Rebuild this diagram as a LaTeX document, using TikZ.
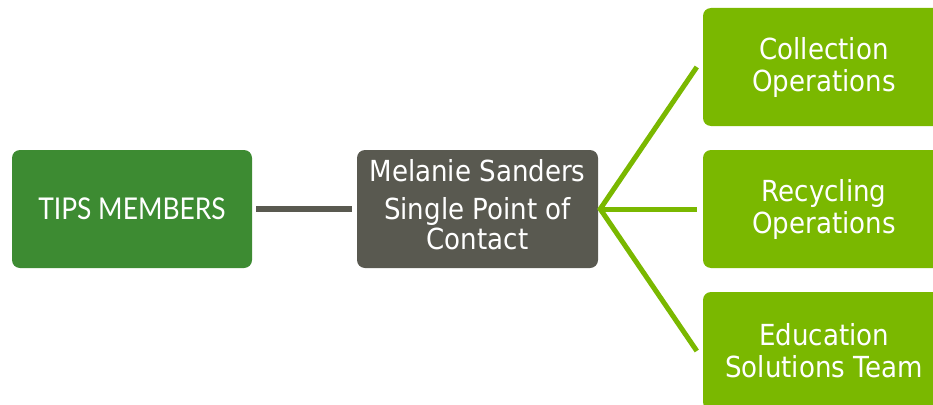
\documentclass[tikz,border=0pt]{standalone}
\usepackage{fontspec}
\setmainfont{DejaVu Sans}
\newfontfamily\tahfont[FakeStretch=0.9]{DejaVu Sans}
\newfontfamily\gillfont[FakeStretch=0.88]{Lato}
\definecolor{tipsgreen}{RGB}{61,139,50}
\definecolor{darkbox}{RGB}{89,89,80}
\definecolor{limebox}{RGB}{122,184,0}
\begin{document}
\begin{tikzpicture}[x=1pt,y=-1pt,
  box/.style={rounded corners=8pt, minimum width=240pt, minimum height=118pt, inner sep=0pt, text=white, align=center},
  tipsbox/.style={box, fill=tipsgreen, font=\gillfont\fontsize{30}{34}\selectfont},
  midbox/.style={box, fill=darkbox, minimum width=241pt, font=\tahfont\fontsize{29}{30}\selectfont},
  leafbox/.style={box, fill=limebox, minimum width=242pt, font=\tahfont\fontsize{29}{32}\selectfont},
  grayline/.style={draw=darkbox, line width=6pt, shorten <=4pt, shorten >=5pt},
  greenline/.style={draw=limebox, line width=5pt, line cap=butt}]
\useasboundingbox (0,0) rectangle (933,404);
\begin{scope}
\clip (0,0) rectangle (933,404);
\node[tipsbox] (tips) at (132,209) {TIPS MEMBERS};
\node[midbox] (mel) at (477.5,209) {\raisebox{5pt}{\begin{tabular}{@{}c@{}}Melanie Sanders\\[7pt]Single Point of\\Contact\end{tabular}}};
\node[leafbox] (col) at (824,67) {Collection\\Operations};
\node[leafbox] (rec) at (824,209) {Recycling\\Operations};
\node[leafbox] (edu) at (824,351) {Education\\Solutions Team};
\end{scope}
\coordinate (hub) at ([xshift=2pt]mel.east);
\coordinate (colend) at ([xshift=-6pt]col.west);
\coordinate (recend) at ([xshift=-6pt]rec.west);
\coordinate (eduend) at ([xshift=-6pt]edu.west);
\draw[grayline] (tips.east) -- (mel.west);
\draw[greenline] (colend) -- (hub) -- (eduend);
\draw[greenline] (hub) -- (recend);
\end{tikzpicture}
\end{document}
